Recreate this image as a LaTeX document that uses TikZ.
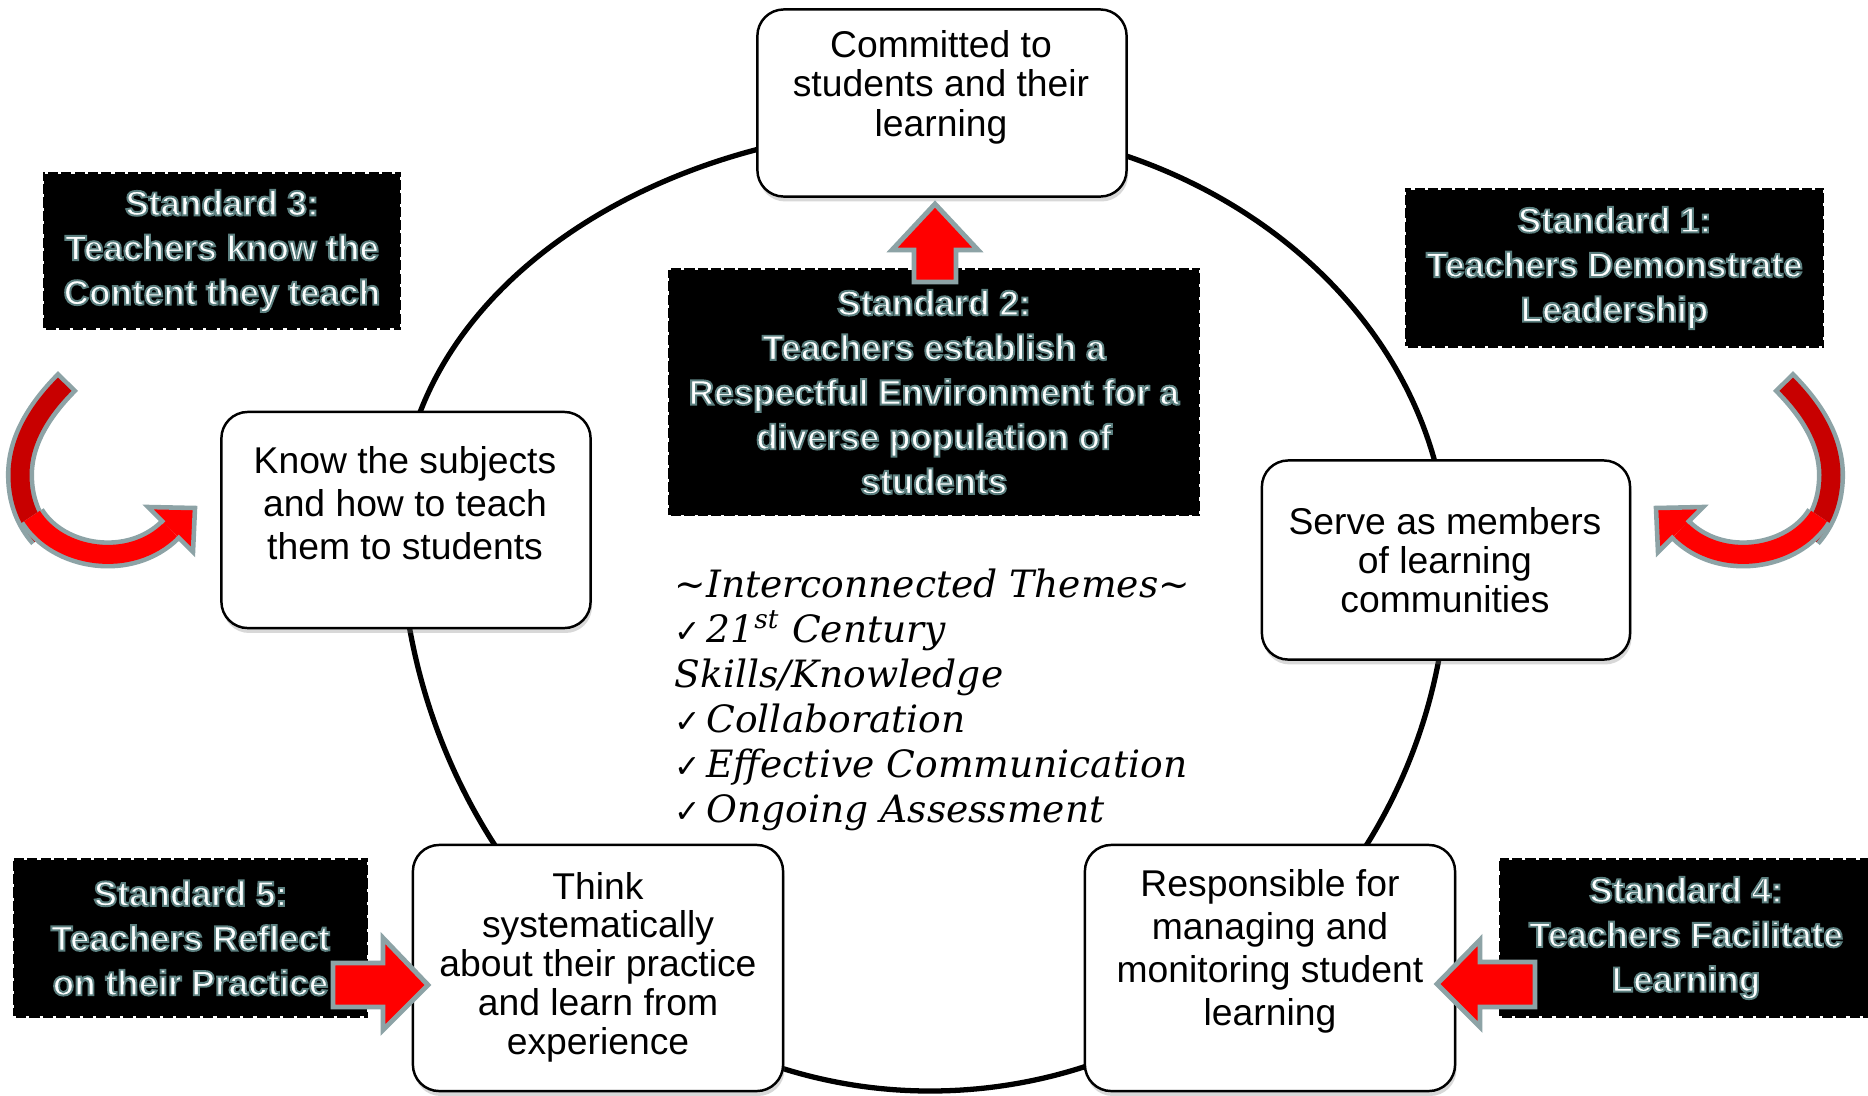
\documentclass[tikz,border=0pt]{standalone}
\usepackage{fontspec}
\usetikzlibrary{shadows}
\newfontfamily\arial{Liberation Sans}
\newfontfamily\arialb{Liberation Sans Bold}
\newfontfamily\djv{DejaVu Sans}
\newfontfamily\hand{DejaVu Serif}
\definecolor{outl}{RGB}{141,163,166}
\definecolor{darkred}{RGB}{200,0,0}
\newcommand\glowon{\special{pdf:literal direct 2 Tr 0.55 w 0.36 0.50 0.50 RG}}
\newcommand\glowoff{\special{pdf:literal direct 0 Tr}}
\newcommand\chk{{\djv\upshape\fontsize{9}{12.8}\selectfont ✓}\kern1.5pt}
\begin{document}
\begin{tikzpicture}[x=0.01cm, y=-0.01cm,
  wbox/.style={draw=black, line width=0.7pt, fill=white, rounded corners=7.5pt,
    drop shadow={shadow xshift=0.4pt, shadow yshift=-1.4pt, opacity=0.3}, inner sep=0pt},
  wtext/.style={font=\arial\fontsize{10.6}{11.2}\selectfont, align=center, inner sep=0pt},
  sbox/.style={fill=black, draw=white, line width=0.9pt, dash pattern=on 0.9pt off 2.9pt, inner sep=0pt,
    text=white, font=\arialb\fontsize{10}{12.7}\selectfont, align=center},
  blk/.style={fill=red, draw=outl, line width=1.4pt, line join=miter},
  circ/.style={line width=1.5pt},
  curvarrow/.pic={
    \draw[outl, line width=8pt] (68,381) .. controls (40,409) and (20,440) .. (20,475) .. controls (20,500) and (28,520) .. (42,536);
    \draw[darkred, line width=5.4pt, shorten <=1.3pt] (68,381) .. controls (40,409) and (20,440) .. (20,475) .. controls (20,500) and (28,520) .. (42,536);
    \draw[outl, line width=8pt] (32,516) .. controls (58,558) and (130,570) .. (170.5,529.5);
    \draw[red, line width=5.4pt] (32,516) .. controls (58,558) and (130,570) .. (170.5,529.5);
    \fill[red] (163.8,522.8) -- (148,507) -- (195,508) -- (193,552) -- (177.2,536.2) -- cycle;
    \draw[outl, line width=1.3pt, line join=miter] (163.8,522.8) -- (148,507) -- (195,508) -- (193,552) -- (177.2,536.2);
  }]
\useasboundingbox (0,0) rectangle (1868,1096);
\fill[white] (0,0) rectangle (1868,1096);

% ring
\draw[circ] (942,126) .. controls (1220,126) and (1448,321) .. (1448,560)
  .. controls (1448,852) and (1215,1091) .. (930,1091)
  .. controls (638,1091) and (400,834) .. (400,520)
  .. controls (400,295) and (650,126) .. (942,126) -- cycle;

% white boxes
\node[wbox, minimum width=3.69cm, minimum height=1.87cm] (n1) at (942,103) {};
\node[wtext] (n1t) at (941,87) {Committed to\\students and their\\learning};
\node[wbox, minimum width=3.69cm, minimum height=2.16cm] (n2) at (406,520) {};
\node[wtext, font=\arial\fontsize{10.6}{12.2}\selectfont] (n2t) at (405,503) {Know the subjects\\and how to teach\\them to students};
\node[wbox, minimum width=3.68cm, minimum height=1.99cm] (n3) at (1446,560) {};
\node[wtext, font=\arial\fontsize{10.6}{11.0}\selectfont] (n3t) at (1445,560) {Serve as members\\of learning\\communities};
\node[wbox, minimum width=3.70cm, minimum height=2.46cm] (n4) at (598,968) {};
\node[wtext, font=\arial\fontsize{10.6}{11.0}\selectfont] (n4t) at (598,967) {Think\\systematically\\about their practice\\and learn from\\experience};
\node[wbox, minimum width=3.70cm, minimum height=2.46cm] (n5) at (1270,968) {};
\node[wtext, font=\arial\fontsize{10.6}{12.2}\selectfont] (n5t) at (1270,951) {Responsible for\\managing and\\monitoring student\\learning};

% standard boxes
\node[sbox, minimum width=3.58cm, minimum height=1.57cm] (s3) at (222,251) {\glowon Standard 3:\\Teachers know the\\Content they teach\glowoff};
\node[sbox, minimum width=5.32cm, minimum height=2.48cm] (s2) at (934,392) {\glowon Standard 2:\\Teachers establish a\\Respectful Environment for a\\diverse population of\\students\glowoff};
\node[sbox, minimum width=4.19cm, minimum height=1.60cm] (s1) at (1614.5,268) {\glowon Standard 1:\\Teachers Demonstrate\\Leadership\glowoff};
\node[sbox, minimum width=3.55cm, minimum height=1.59cm] (s5) at (190.5,938) {\glowon Standard 5:\\Teachers Reflect\\on their Practice\glowoff};
\node[sbox, minimum width=3.74cm, minimum height=1.60cm] (s4) at (1686,938) {\glowon Standard 4:\\Teachers Facilitate\\Learning\glowoff};

% themes
\node[anchor=north west, inner sep=0pt] (themes) at (674,565) {\fontsize{10.7}{12.8}\selectfont\hand\itshape
  \begin{tabular}{@{}l@{}}
  \textasciitilde Interconnected Themes\textasciitilde\\
  \chk 21\textsuperscript{st} Century\\
  Skills/Knowledge\\
  \chk Collaboration\\
  \chk Effective Communication\\
  \chk Ongoing Assessment
  \end{tabular}};

% block arrows
\draw[blk] (935,204) -- (978,250) -- (956,250) -- (956,282) -- (914,282) -- (914,250) -- (892,250) -- cycle;
\draw[blk] (333,963) -- (383,963) -- (383,938) -- (428,985) -- (383,1030) -- (383,1007) -- (333,1007) -- cycle;
\draw[blk] (1535,962) -- (1480,962) -- (1480,940) -- (1437,984) -- (1480,1027) -- (1480,1007) -- (1535,1007) -- cycle;

% curved arrows
\pic at (0,0) {curvarrow};
\pic[xscale=-1] at (1851,0) {curvarrow};
\end{tikzpicture}
\end{document}
